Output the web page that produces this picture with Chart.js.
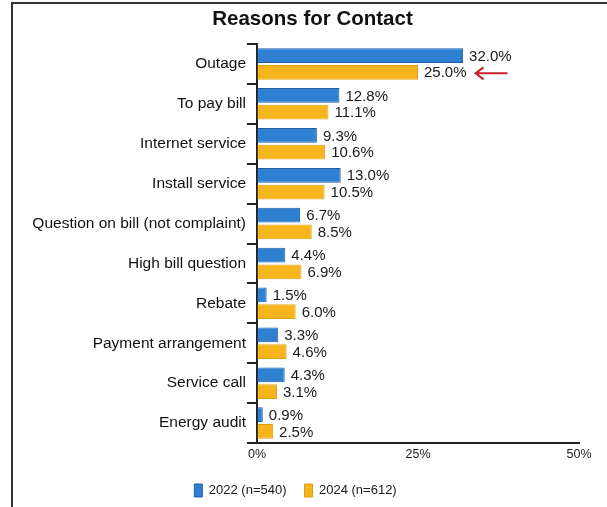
<!DOCTYPE html>
<html>
<head>
<meta charset="utf-8">
<script src="https://cdn.jsdelivr.net/npm/chart.js@4/dist/chart.umd.min.js"></script>
<style>
  html, body { margin: 0; padding: 0; background: #fff; overflow: hidden; }
  #wrap { position: relative; width: 607px; height: 507px; }
  #frame {
    position: absolute; left: 11px; top: 2px; width: 594px; height: 520px;
    border-left: 2px solid #333; border-top: 2px solid #333;
    pointer-events: none;
  }
</style>
</head>
<body>
<div id="wrap">
  <canvas id="chart" width="607" height="507"></canvas>
  <div id="frame"></div>
</div>
<script>
// --- Data ---
const categories = [
  'Outage', 'To pay bill', 'Internet service', 'Install service',
  'Question on bill (not complaint)', 'High bill question', 'Rebate',
  'Payment arrangement', 'Service call', 'Energy audit'
];
const values2022 = [32.0, 12.8, 9.3, 13.0, 6.7, 4.4, 1.5, 3.3, 4.3, 0.9];
const values2024 = [25.0, 11.1, 10.6, 10.5, 8.5, 6.9, 6.0, 4.6, 3.1, 2.5];
const seriesLabels = ['2022 (n=540)', '2024 (n=612)'];
const xTicks = [0, 25, 50];

const FONT = '"Liberation Sans", Arial, Helvetica, sans-serif';
const INK = '#1a1a1a';

// value labels next to each bar + red arrow on Outage 2024
const valueLabels = {
  id: 'valueLabels',
  afterDatasetsDraw(chart) {
    const ctx = chart.ctx;
    ctx.save();
    ctx.font = '15px ' + FONT;
    ctx.fillStyle = INK;
    ctx.textAlign = 'left';
    ctx.textBaseline = 'middle';
    chart.data.datasets.forEach((ds, di) => {
      chart.getDatasetMeta(di).data.forEach((bar, i) => {
        ctx.fillText(ds.data[i].toFixed(1) + '%', bar.x + 6, bar.y + 1);
      });
    });
    // arrow pointing at the 2024 outage value
    const bar = chart.getDatasetMeta(1).data[0];
    const tw = ctx.measureText(values2024[0].toFixed(1) + '%').width;
    const x0 = bar.x + 6 + tw + 9;
    const y = bar.y + 1;
    ctx.strokeStyle = '#c8232c';
    ctx.lineWidth = 2;
    ctx.beginPath();
    ctx.moveTo(x0, y);
    ctx.lineTo(x0 + 32, y);
    ctx.moveTo(x0 + 8, y - 6);
    ctx.lineTo(x0, y);
    ctx.lineTo(x0 + 8, y + 6);
    ctx.stroke();
    ctx.restore();
  }
};

// title sits right of the canvas centre, legend a bit left
const boxShift = {
  id: 'boxShift',
  afterLayout(chart) {
    chart.titleBlock.left += 13;
    chart.titleBlock.right += 13;
    chart.legend.left -= 4;
    chart.legend.right -= 4;
  }
};

new Chart(document.getElementById('chart'), {
  type: 'bar',
  data: {
    labels: categories,
    datasets: [
      {
        label: seriesLabels[0],
        data: values2022,
        backgroundColor: '#2f80d3',
        borderColor: '#1f5fa6',
        borderWidth: 1,
        categoryPercentage: 0.84,
        barPercentage: 0.88
      },
      {
        label: seriesLabels[1],
        data: values2024,
        backgroundColor: '#f7b51d',
        borderColor: '#e29f0c',
        borderWidth: 1,
        categoryPercentage: 0.84,
        barPercentage: 0.88
      }
    ]
  },
  options: {
    indexAxis: 'y',
    responsive: false,
    animation: false,
    layout: { padding: { left: 20, right: 28, top: 0, bottom: 0 } },
    plugins: {
      title: {
        display: true,
        text: 'Reasons for Contact',
        color: '#111',
        font: { family: FONT, size: 20.5, weight: 'bold' },
        padding: { top: 7, bottom: 12.4 }
      },
      legend: {
        position: 'bottom',
        labels: {
          color: INK,
          font: { family: FONT, size: 13 },
          boxWidth: 8,
          boxHeight: 13,
          padding: 18
        }
      },
      tooltip: { enabled: false }
    },
    scales: {
      x: {
        min: 0,
        max: 50,
        afterBuildTicks: (scale) => { scale.ticks = xTicks.map(v => ({ value: v })); },
        afterFit: (scale) => { scale.height = 23; },
        grid: { drawOnChartArea: false, drawTicks: false },
        border: { display: true, color: '#222', width: 2 },
        ticks: {
          color: INK,
          padding: 4,
          font: { family: FONT, size: 12.5 },
          callback: (v) => v + '%'
        }
      },
      y: {
        afterFit: (scale) => { scale.width = 237; },
        grid: { drawOnChartArea: false, tickLength: 10, color: '#222', lineWidth: 2 },
        border: { display: true, color: '#222', width: 2 },
        ticks: {
          color: '#111',
          padding: 1,
          autoSkip: false,
          font: { family: FONT, size: 15.5 }
        }
      }
    }
  },
  plugins: [valueLabels, boxShift]
});
</script>
</body>
</html>
